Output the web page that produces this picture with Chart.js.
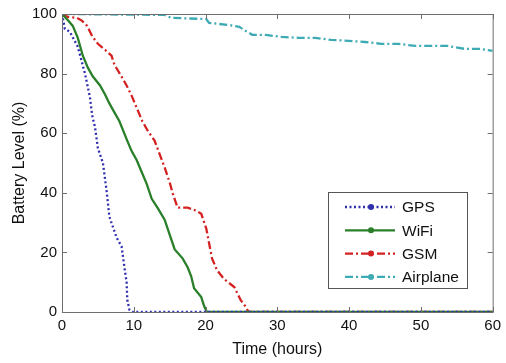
<!DOCTYPE html>
<html>
<head>
<meta charset="utf-8">
<script src="https://cdn.jsdelivr.net/npm/chart.js@4.4.1/dist/chart.umd.min.js"></script>
<style>
  html, body { margin: 0; padding: 0; background: #fff; }
  #wrap { width: 506px; height: 363px; }
</style>
</head>
<body>
<div id="wrap"><canvas id="myChart" width="506" height="363"></canvas></div>
<script>
// battery level (%) vs time (hours)
const gpsTime  = [0, 0.4, 1.1, 2.2, 3.2, 3.9, 4.2, 4.6, 5.0, 5.7, 6.2, 6.6, 7.6, 8.3, 8.7, 9.0, 9.1, 9.4, 9.8, 60];
const gpsLevel = [100, 95, 94, 89, 80, 72, 66, 62, 55, 50, 41, 32, 25, 22, 15, 10, 4, 0.7, 0, 0];

const wifiTime  = [0, 0.8, 1.5, 2.2, 2.9, 3.6, 4.3, 5.3, 6.0, 6.6, 7.3, 8.0, 9.0, 9.7, 10.4, 11.1, 11.8, 12.5, 13.3, 14.3, 15.0, 15.7, 16.8, 17.5, 18.0, 18.4, 19.4, 19.8, 20.2, 60];
const wifiLevel = [100, 98, 96, 92, 86, 82, 79, 76, 73, 70, 67, 64, 58, 54, 51, 47, 43, 38, 35, 31, 26, 21, 18, 15, 12, 8, 5, 2, 0, 0];

const gsmTime  = [0, 0.8, 2.1, 2.8, 3.5, 4.2, 5.0, 6.0, 6.9, 7.3, 8.3, 9.0, 9.7, 10.5, 11.2, 11.9, 12.9, 13.6, 14.3, 15.0, 15.4, 16.1, 17.5, 18.7, 19.4, 20.1, 20.5, 20.9, 21.6, 22.6, 24.0, 24.9, 25.6, 26.0, 60];
const gsmLevel = [100, 99, 98.7, 97.7, 96, 92.6, 90, 88, 86, 83, 79, 76, 72.6, 68, 64, 61, 57.5, 53, 48.5, 43.5, 40, 35, 35, 34, 33, 28, 23, 18, 14, 11, 8.4, 4, 1.7, 0, 0];

const airTime  = [0, 14.3, 15.2, 20.1, 20.5, 23.3, 24.7, 25.6, 26.5, 28.4, 30.6, 33.0, 35.3, 37.5, 39.9, 42.2, 44.5, 46.8, 49.2, 51.4, 53.7, 56.1, 58.3, 60];
const airLevel = [100, 99.7, 98.7, 98.3, 97, 96.3, 95.7, 94.3, 93, 93, 92.3, 92, 92, 91.3, 91, 90.6, 90, 90, 89.3, 89.3, 89.3, 88.3, 88.3, 87.6];

const seriesNames = ['GPS', 'WiFi', 'GSM', 'Airplane'];
const xTicks = [0, 10, 20, 30, 40, 50, 60];
const yTicks = [0, 20, 40, 60, 80, 100];

const FONT = '"Liberation Sans", Arial, sans-serif';

function pts(xs, ys) {
    return xs.map((x, i) => ({ x: x, y: ys[i] }));
}

const styles = [
    { color: '#2f2fae', dash: [2, 2.5] },
    { color: '#2a7f2a', dash: [] },
    { color: '#d42222', dash: [8, 3, 2, 3] },
    { color: '#3eaab3', dash: [8, 3, 2, 3] }
];
const allData = [pts(gpsTime, gpsLevel), pts(wifiTime, wifiLevel), pts(gsmTime, gsmLevel), pts(airTime, airLevel)];

const datasets = seriesNames.map((name, i) => ({
    label: name,
    data: allData[i],
    showLine: true,
    borderColor: styles[i].color,
    backgroundColor: styles[i].color,
    borderWidth: 2.3,
    borderDash: styles[i].dash,
    pointRadius: 0,
    tension: 0
}));

// box around the plot with inward ticks, matlab style
const boxPlugin = {
    id: 'box',
    afterDatasetsDraw(chart) {
        const ctx = chart.ctx;
        const a = chart.chartArea;
        const xs = chart.scales.x, ys = chart.scales.y;
        ctx.save();
        ctx.strokeStyle = '#6e6e6e';
        ctx.lineWidth = 1;
        ctx.strokeRect(a.left + 0.5, a.top + 0.5, a.right - a.left, a.bottom - a.top);
        ctx.beginPath();
        xTicks.forEach(v => {
            const px = Math.round(xs.getPixelForValue(v)) + 0.5;
            ctx.moveTo(px, a.bottom); ctx.lineTo(px, a.bottom - 5);
            ctx.moveTo(px, a.top); ctx.lineTo(px, a.top + 5);
        });
        yTicks.forEach(v => {
            const py = Math.round(ys.getPixelForValue(v)) + 0.5;
            ctx.moveTo(a.left, py); ctx.lineTo(a.left + 5, py);
            ctx.moveTo(a.right, py); ctx.lineTo(a.right - 5, py);
        });
        ctx.stroke();

        // legend box
        const lx = 328, ly = 192, lw = 139, lh = 96;
        ctx.fillStyle = '#fff';
        ctx.fillRect(lx, ly, lw, lh);
        ctx.strokeStyle = '#555';
        ctx.strokeRect(lx + 0.5, ly + 0.5, lw, lh);
        ctx.font = '15.5px ' + FONT;
        ctx.textBaseline = 'middle';
        chart.data.datasets.forEach((ds, i) => {
            const y = ly + 15 + i * 23.3;
            ctx.strokeStyle = ds.borderColor;
            ctx.lineWidth = 2.3;
            ctx.setLineDash(ds.borderDash);
            ctx.beginPath();
            ctx.moveTo(345, y); ctx.lineTo(395, y);
            ctx.stroke();
            ctx.setLineDash([]);
            ctx.fillStyle = ds.borderColor;
            ctx.beginPath();
            ctx.arc(371, y, 3, 0, Math.PI * 2);
            ctx.fill();
            ctx.fillStyle = '#111';
            ctx.fillText(ds.label, 402, y + 1);
        });
        ctx.restore();
    }
};

const ctx = document.getElementById('myChart');
new Chart(ctx, {
    type: 'scatter',
    data: { datasets: datasets },
    options: {
        responsive: false,
        animation: false,
        layout: { padding: { top: 13, right: 9, left: 0, bottom: 0 } },
        plugins: { legend: { display: false }, tooltip: { enabled: false } },
        scales: {
            x: {
                type: 'linear', min: 0, max: 60,
                afterBuildTicks: s => { s.ticks = xTicks.map(v => ({ value: v })); },
                afterFit: s => { s.height = 51; },
                grid: { display: false, drawTicks: false },
                border: { display: false },
                ticks: { padding: 5, color: '#111', font: { size: 15, family: FONT } },
                title: { display: true, text: 'Time (hours)', color: '#111', padding: { top: 2 },
                         font: { size: 16, family: FONT } }
            },
            y: {
                type: 'linear', min: 0, max: 100,
                afterBuildTicks: s => { s.ticks = yTicks.map(v => ({ value: v })); },
                afterFit: s => { s.width = 62; },
                grid: { display: false, drawTicks: false },
                border: { display: false },
                ticks: { padding: 5, color: '#111', font: { size: 15, family: FONT } },
                title: { display: true, text: 'Battery Level (%)', color: '#111', padding: { top: 10, bottom: 0 },
                         font: { size: 16, family: FONT } }
            }
        }
    },
    plugins: [boxPlugin]
});
</script>
</body>
</html>
